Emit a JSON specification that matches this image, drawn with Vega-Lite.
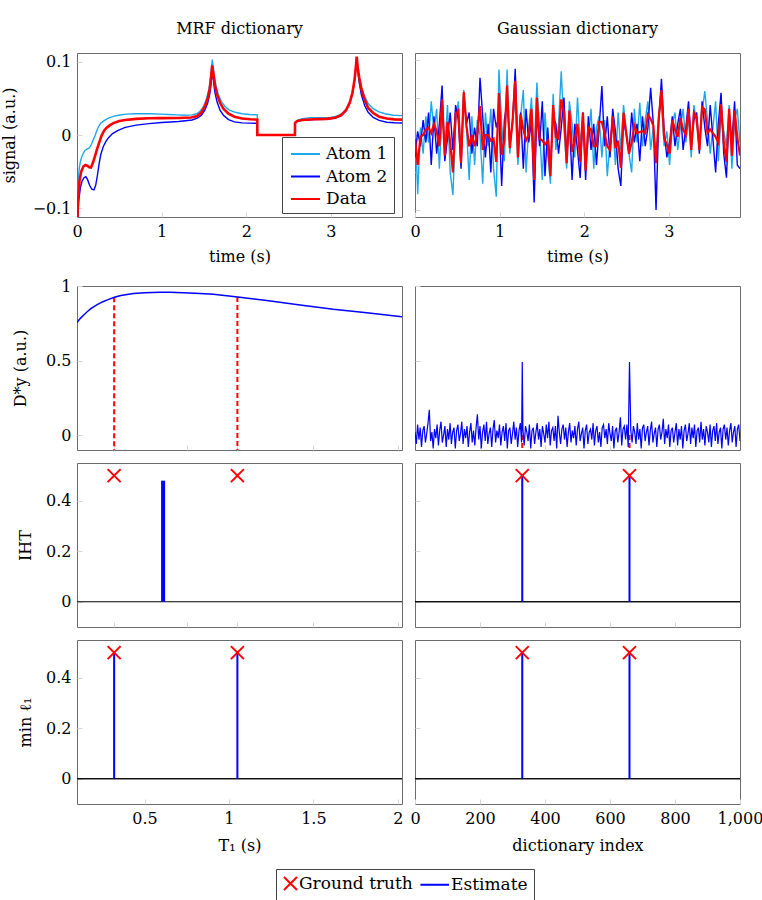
{
"$schema": "https://vega.github.io/schema/vega-lite/v6.json",
"padding": {"left": 0, "top": 20, "right": 0, "bottom": 0},
"background": "white",
"config": {
  "font": "DejaVu Serif",
  "view": {"stroke": "#6b6b6b", "strokeWidth": 1},
  "axis": {"domain": false, "grid": false, "ticks": true, "tickSize": -5, "tickColor": "#d6d6d6", "tickWidth": 1, "labelFont": "DejaVu Serif", "labelFontSize": 16, "labelColor": "#000", "labelPadding": 11, "labelFlush": false, "labelOverlap": false, "titleFont": "DejaVu Serif", "titleFontSize": 16, "titleFontWeight": "normal", "titleColor": "#000"},
  "legend": {"labelFont": "DejaVu Serif", "labelFontSize": 16, "labelColor": "#000"},
  "title": {"font": "DejaVu Serif", "fontSize": 16, "fontWeight": "normal", "color": "#000", "anchor": "middle", "frame": "group"}
},
"datasets": {
"mrf": [
{"s":"Atom 1","t":0,"v":-0.13},{"s":"Atom 1","t":0.01,"v":-0.075},{"s":"Atom 1","t":0.024,"v":-0.048},{"s":"Atom 1","t":0.04,"v":-0.036},{"s":"Atom 1","t":0.055,"v":-0.03},{"s":"Atom 1","t":0.075,"v":-0.025},{"s":"Atom 1","t":0.094,"v":-0.021},{"s":"Atom 1","t":0.12,"v":-0.019},{"s":"Atom 1","t":0.142,"v":-0.018},{"s":"Atom 1","t":0.16,"v":-0.015},{"s":"Atom 1","t":0.173,"v":-0.012},{"s":"Atom 1","t":0.19,"v":-0.007},{"s":"Atom 1","t":0.213,"v":-0.001},{"s":"Atom 1","t":0.232,"v":0.005},{"s":"Atom 1","t":0.252,"v":0.011},{"s":"Atom 1","t":0.28,"v":0.016},{"s":"Atom 1","t":0.311,"v":0.019},{"s":"Atom 1","t":0.34,"v":0.021},{"s":"Atom 1","t":0.37,"v":0.023},{"s":"Atom 1","t":0.43,"v":0.0255},{"s":"Atom 1","t":0.49,"v":0.027},{"s":"Atom 1","t":0.58,"v":0.0285},{"s":"Atom 1","t":0.685,"v":0.029},{"s":"Atom 1","t":0.78,"v":0.0292},{"s":"Atom 1","t":0.88,"v":0.029},{"s":"Atom 1","t":0.98,"v":0.0285},{"s":"Atom 1","t":1.08,"v":0.028},{"s":"Atom 1","t":1.18,"v":0.0275},{"s":"Atom 1","t":1.28,"v":0.027},{"s":"Atom 1","t":1.36,"v":0.0275},{"s":"Atom 1","t":1.41,"v":0.029},{"s":"Atom 1","t":1.45,"v":0.032},{"s":"Atom 1","t":1.49,"v":0.038},{"s":"Atom 1","t":1.52,"v":0.046},{"s":"Atom 1","t":1.55,"v":0.058},{"s":"Atom 1","t":1.57,"v":0.071},{"s":"Atom 1","t":1.585,"v":0.088},{"s":"Atom 1","t":1.598,"v":0.103},{"s":"Atom 1","t":1.61,"v":0.092},{"s":"Atom 1","t":1.625,"v":0.078},{"s":"Atom 1","t":1.645,"v":0.066},{"s":"Atom 1","t":1.67,"v":0.055},{"s":"Atom 1","t":1.71,"v":0.045},{"s":"Atom 1","t":1.75,"v":0.039},{"s":"Atom 1","t":1.8,"v":0.034},{"s":"Atom 1","t":1.87,"v":0.031},{"s":"Atom 1","t":1.95,"v":0.029},{"s":"Atom 1","t":2.04,"v":0.028},{"s":"Atom 1","t":2.13,"v":0.0275},{"s":"Atom 1","t":2.131,"v":0},{"s":"Atom 1","t":2.575,"v":0},{"s":"Atom 1","t":2.576,"v":0.017},{"s":"Atom 1","t":2.6,"v":0.02},{"s":"Atom 1","t":2.65,"v":0.022},{"s":"Atom 1","t":2.75,"v":0.0235},{"s":"Atom 1","t":2.9,"v":0.0235},{"s":"Atom 1","t":3.0,"v":0.024},{"s":"Atom 1","t":3.08,"v":0.026},{"s":"Atom 1","t":3.14,"v":0.03},{"s":"Atom 1","t":3.19,"v":0.037},{"s":"Atom 1","t":3.23,"v":0.047},{"s":"Atom 1","t":3.26,"v":0.06},{"s":"Atom 1","t":3.28,"v":0.077},{"s":"Atom 1","t":3.295,"v":0.094},{"s":"Atom 1","t":3.305,"v":0.105},{"s":"Atom 1","t":3.315,"v":0.094},{"s":"Atom 1","t":3.33,"v":0.082},{"s":"Atom 1","t":3.36,"v":0.066},{"s":"Atom 1","t":3.4,"v":0.052},{"s":"Atom 1","t":3.44,"v":0.043},{"s":"Atom 1","t":3.5,"v":0.036},{"s":"Atom 1","t":3.56,"v":0.032},{"s":"Atom 1","t":3.64,"v":0.029},{"s":"Atom 1","t":3.74,"v":0.027},{"s":"Atom 1","t":3.84,"v":0.0265},
{"s":"Atom 2","t":0,"v":-0.13},{"s":"Atom 2","t":0.02,"v":-0.09},{"s":"Atom 2","t":0.04,"v":-0.072},{"s":"Atom 2","t":0.06,"v":-0.063},{"s":"Atom 2","t":0.085,"v":-0.058},{"s":"Atom 2","t":0.105,"v":-0.057},{"s":"Atom 2","t":0.125,"v":-0.061},{"s":"Atom 2","t":0.15,"v":-0.069},{"s":"Atom 2","t":0.175,"v":-0.074},{"s":"Atom 2","t":0.2,"v":-0.075},{"s":"Atom 2","t":0.22,"v":-0.069},{"s":"Atom 2","t":0.24,"v":-0.056},{"s":"Atom 2","t":0.26,"v":-0.04},{"s":"Atom 2","t":0.28,"v":-0.027},{"s":"Atom 2","t":0.31,"v":-0.016},{"s":"Atom 2","t":0.34,"v":-0.009},{"s":"Atom 2","t":0.37,"v":-0.004},{"s":"Atom 2","t":0.42,"v":0.002},{"s":"Atom 2","t":0.48,"v":0.006},{"s":"Atom 2","t":0.57,"v":0.0105},{"s":"Atom 2","t":0.7,"v":0.0135},{"s":"Atom 2","t":0.85,"v":0.0155},{"s":"Atom 2","t":1.0,"v":0.017},{"s":"Atom 2","t":1.2,"v":0.0185},{"s":"Atom 2","t":1.36,"v":0.0205},{"s":"Atom 2","t":1.42,"v":0.023},{"s":"Atom 2","t":1.47,"v":0.027},{"s":"Atom 2","t":1.51,"v":0.034},{"s":"Atom 2","t":1.545,"v":0.044},{"s":"Atom 2","t":1.57,"v":0.057},{"s":"Atom 2","t":1.585,"v":0.071},{"s":"Atom 2","t":1.598,"v":0.088},{"s":"Atom 2","t":1.612,"v":0.074},{"s":"Atom 2","t":1.63,"v":0.058},{"s":"Atom 2","t":1.655,"v":0.045},{"s":"Atom 2","t":1.69,"v":0.034},{"s":"Atom 2","t":1.73,"v":0.027},{"s":"Atom 2","t":1.79,"v":0.021},{"s":"Atom 2","t":1.86,"v":0.018},{"s":"Atom 2","t":1.95,"v":0.0165},{"s":"Atom 2","t":2.13,"v":0.016},{"s":"Atom 2","t":2.131,"v":0},{"s":"Atom 2","t":2.575,"v":0},{"s":"Atom 2","t":2.576,"v":0.016},{"s":"Atom 2","t":2.6,"v":0.0185},{"s":"Atom 2","t":2.66,"v":0.02},{"s":"Atom 2","t":2.8,"v":0.021},{"s":"Atom 2","t":2.95,"v":0.0215},{"s":"Atom 2","t":3.05,"v":0.023},{"s":"Atom 2","t":3.12,"v":0.026},{"s":"Atom 2","t":3.18,"v":0.033},{"s":"Atom 2","t":3.225,"v":0.044},{"s":"Atom 2","t":3.255,"v":0.057},{"s":"Atom 2","t":3.28,"v":0.075},{"s":"Atom 2","t":3.295,"v":0.092},{"s":"Atom 2","t":3.305,"v":0.105},{"s":"Atom 2","t":3.317,"v":0.088},{"s":"Atom 2","t":3.335,"v":0.071},{"s":"Atom 2","t":3.36,"v":0.055},{"s":"Atom 2","t":3.4,"v":0.04},{"s":"Atom 2","t":3.44,"v":0.031},{"s":"Atom 2","t":3.5,"v":0.024},{"s":"Atom 2","t":3.57,"v":0.02},{"s":"Atom 2","t":3.66,"v":0.0175},{"s":"Atom 2","t":3.75,"v":0.0167},{"s":"Atom 2","t":3.84,"v":0.0163},
{"s":"Data","t":0,"v":-0.13},{"s":"Data","t":0.012,"v":-0.09},{"s":"Data","t":0.03,"v":-0.062},{"s":"Data","t":0.05,"v":-0.05},{"s":"Data","t":0.075,"v":-0.043},{"s":"Data","t":0.1,"v":-0.041},{"s":"Data","t":0.12,"v":-0.042},{"s":"Data","t":0.145,"v":-0.044},{"s":"Data","t":0.165,"v":-0.0445},{"s":"Data","t":0.185,"v":-0.039},{"s":"Data","t":0.21,"v":-0.03},{"s":"Data","t":0.235,"v":-0.02},{"s":"Data","t":0.26,"v":-0.011},{"s":"Data","t":0.29,"v":-0.001},{"s":"Data","t":0.32,"v":0.006},{"s":"Data","t":0.35,"v":0.01},{"s":"Data","t":0.39,"v":0.0135},{"s":"Data","t":0.43,"v":0.0162},{"s":"Data","t":0.5,"v":0.019},{"s":"Data","t":0.57,"v":0.0205},{"s":"Data","t":0.7,"v":0.022},{"s":"Data","t":0.85,"v":0.0228},{"s":"Data","t":1.0,"v":0.023},{"s":"Data","t":1.2,"v":0.0233},{"s":"Data","t":1.35,"v":0.024},{"s":"Data","t":1.42,"v":0.026},{"s":"Data","t":1.47,"v":0.031},{"s":"Data","t":1.51,"v":0.039},{"s":"Data","t":1.545,"v":0.05},{"s":"Data","t":1.57,"v":0.064},{"s":"Data","t":1.585,"v":0.08},{"s":"Data","t":1.598,"v":0.095},{"s":"Data","t":1.612,"v":0.083},{"s":"Data","t":1.63,"v":0.068},{"s":"Data","t":1.655,"v":0.055},{"s":"Data","t":1.69,"v":0.044},{"s":"Data","t":1.73,"v":0.036},{"s":"Data","t":1.79,"v":0.029},{"s":"Data","t":1.86,"v":0.025},{"s":"Data","t":1.95,"v":0.0225},{"s":"Data","t":2.05,"v":0.0215},{"s":"Data","t":2.13,"v":0.021},{"s":"Data","t":2.131,"v":0},{"s":"Data","t":2.575,"v":0},{"s":"Data","t":2.576,"v":0.0165},{"s":"Data","t":2.6,"v":0.019},{"s":"Data","t":2.66,"v":0.0205},{"s":"Data","t":2.8,"v":0.0215},{"s":"Data","t":2.95,"v":0.022},{"s":"Data","t":3.05,"v":0.0235},{"s":"Data","t":3.12,"v":0.027},{"s":"Data","t":3.18,"v":0.034},{"s":"Data","t":3.225,"v":0.045},{"s":"Data","t":3.255,"v":0.058},{"s":"Data","t":3.28,"v":0.076},{"s":"Data","t":3.295,"v":0.093},{"s":"Data","t":3.305,"v":0.107},{"s":"Data","t":3.317,"v":0.092},{"s":"Data","t":3.335,"v":0.078},{"s":"Data","t":3.36,"v":0.063},{"s":"Data","t":3.4,"v":0.048},{"s":"Data","t":3.44,"v":0.037},{"s":"Data","t":3.5,"v":0.03},{"s":"Data","t":3.57,"v":0.025},{"s":"Data","t":3.66,"v":0.0225},{"s":"Data","t":3.75,"v":0.0213},{"s":"Data","t":3.84,"v":0.021}
],
"gau": [
{"s":"Atom 1","t":0,"v":0.45},{"s":"Atom 1","t":0.032,"v":-1.58},{"s":"Atom 1","t":0.064,"v":0.2},{"s":"Atom 1","t":0.096,"v":-0.5},{"s":"Atom 1","t":0.128,"v":0.5},{"s":"Atom 1","t":0.16,"v":-0.2},{"s":"Atom 1","t":0.192,"v":0.9},{"s":"Atom 1","t":0.224,"v":0.1},{"s":"Atom 1","t":0.256,"v":0.7},{"s":"Atom 1","t":0.288,"v":-0.9},{"s":"Atom 1","t":0.32,"v":0.6},{"s":"Atom 1","t":0.352,"v":-0.4},{"s":"Atom 1","t":0.384,"v":0.8},{"s":"Atom 1","t":0.416,"v":-1.0},{"s":"Atom 1","t":0.448,"v":-1.6},{"s":"Atom 1","t":0.48,"v":0.3},{"s":"Atom 1","t":0.512,"v":0.9},{"s":"Atom 1","t":0.544,"v":-0.6},{"s":"Atom 1","t":0.576,"v":1.2},{"s":"Atom 1","t":0.608,"v":0.2},{"s":"Atom 1","t":0.64,"v":-1.2},{"s":"Atom 1","t":0.672,"v":0.5},{"s":"Atom 1","t":0.704,"v":-0.8},{"s":"Atom 1","t":0.736,"v":0.4},{"s":"Atom 1","t":0.768,"v":0.0},{"s":"Atom 1","t":0.8,"v":-1.3},{"s":"Atom 1","t":0.832,"v":0.6},{"s":"Atom 1","t":0.864,"v":-0.3},{"s":"Atom 1","t":0.896,"v":0.7},{"s":"Atom 1","t":0.928,"v":-0.9},{"s":"Atom 1","t":0.96,"v":-1.65},{"s":"Atom 1","t":0.992,"v":1.75},{"s":"Atom 1","t":1.024,"v":0.3},{"s":"Atom 1","t":1.056,"v":-0.7},{"s":"Atom 1","t":1.088,"v":1.75},{"s":"Atom 1","t":1.12,"v":-0.5},{"s":"Atom 1","t":1.152,"v":0.4},{"s":"Atom 1","t":1.184,"v":0.9},{"s":"Atom 1","t":1.216,"v":-0.8},{"s":"Atom 1","t":1.248,"v":0.5},{"s":"Atom 1","t":1.28,"v":1.2},{"s":"Atom 1","t":1.312,"v":-1.0},{"s":"Atom 1","t":1.344,"v":0.2},{"s":"Atom 1","t":1.376,"v":1.0},{"s":"Atom 1","t":1.408,"v":-0.6},{"s":"Atom 1","t":1.44,"v":1.4},{"s":"Atom 1","t":1.472,"v":0.1},{"s":"Atom 1","t":1.504,"v":-1.2},{"s":"Atom 1","t":1.536,"v":0.6},{"s":"Atom 1","t":1.568,"v":-0.5},{"s":"Atom 1","t":1.6,"v":-1.3},{"s":"Atom 1","t":1.632,"v":1.1},{"s":"Atom 1","t":1.664,"v":-0.4},{"s":"Atom 1","t":1.696,"v":0.3},{"s":"Atom 1","t":1.728,"v":1.7},{"s":"Atom 1","t":1.76,"v":0.2},{"s":"Atom 1","t":1.792,"v":-0.9},{"s":"Atom 1","t":1.824,"v":0.9},{"s":"Atom 1","t":1.856,"v":0.3},{"s":"Atom 1","t":1.888,"v":-0.6},{"s":"Atom 1","t":1.92,"v":1.0},{"s":"Atom 1","t":1.952,"v":-0.3},{"s":"Atom 1","t":1.984,"v":0.6},{"s":"Atom 1","t":2.016,"v":-0.7},{"s":"Atom 1","t":2.048,"v":-0.1},{"s":"Atom 1","t":2.08,"v":0.7},{"s":"Atom 1","t":2.112,"v":-0.9},{"s":"Atom 1","t":2.144,"v":0.2},{"s":"Atom 1","t":2.176,"v":0.5},{"s":"Atom 1","t":2.208,"v":-0.6},{"s":"Atom 1","t":2.24,"v":0.4},{"s":"Atom 1","t":2.272,"v":-1.1},{"s":"Atom 1","t":2.304,"v":-0.2},{"s":"Atom 1","t":2.336,"v":0.3},{"s":"Atom 1","t":2.368,"v":-0.8},{"s":"Atom 1","t":2.4,"v":0.6},{"s":"Atom 1","t":2.432,"v":-0.4},{"s":"Atom 1","t":2.464,"v":0.8},{"s":"Atom 1","t":2.496,"v":0.1},{"s":"Atom 1","t":2.528,"v":-0.5},{"s":"Atom 1","t":2.56,"v":-1.0},{"s":"Atom 1","t":2.592,"v":0.7},{"s":"Atom 1","t":2.624,"v":-0.2},{"s":"Atom 1","t":2.656,"v":0.86},{"s":"Atom 1","t":2.688,"v":-0.3},{"s":"Atom 1","t":2.72,"v":0.4},{"s":"Atom 1","t":2.752,"v":0.9},{"s":"Atom 1","t":2.784,"v":-0.4},{"s":"Atom 1","t":2.816,"v":0.2},{"s":"Atom 1","t":2.848,"v":-0.6},{"s":"Atom 1","t":2.88,"v":0.5},{"s":"Atom 1","t":2.912,"v":0.9},{"s":"Atom 1","t":2.944,"v":-0.3},{"s":"Atom 1","t":2.976,"v":0.1},{"s":"Atom 1","t":3.008,"v":-0.8},{"s":"Atom 1","t":3.04,"v":0.3},{"s":"Atom 1","t":3.072,"v":0.6},{"s":"Atom 1","t":3.104,"v":-0.4},{"s":"Atom 1","t":3.136,"v":0.2},{"s":"Atom 1","t":3.168,"v":0.7},{"s":"Atom 1","t":3.2,"v":-0.2},{"s":"Atom 1","t":3.232,"v":0.5},{"s":"Atom 1","t":3.264,"v":-0.6},{"s":"Atom 1","t":3.296,"v":0.8},{"s":"Atom 1","t":3.328,"v":0.3},{"s":"Atom 1","t":3.36,"v":-0.3},{"s":"Atom 1","t":3.392,"v":0.6},{"s":"Atom 1","t":3.424,"v":1.17},{"s":"Atom 1","t":3.456,"v":0.4},{"s":"Atom 1","t":3.488,"v":-0.5},{"s":"Atom 1","t":3.52,"v":0.2},{"s":"Atom 1","t":3.552,"v":0.9},{"s":"Atom 1","t":3.584,"v":-0.7},{"s":"Atom 1","t":3.616,"v":0.5},{"s":"Atom 1","t":3.648,"v":0.1},{"s":"Atom 1","t":3.68,"v":-0.3},{"s":"Atom 1","t":3.712,"v":0.8},{"s":"Atom 1","t":3.744,"v":-0.9},{"s":"Atom 1","t":3.776,"v":0.4},{"s":"Atom 1","t":3.808,"v":0.7},{"s":"Atom 1","t":3.84,"v":-0.2},
{"s":"Atom 2","t":0,"v":-0.6},{"s":"Atom 2","t":0.032,"v":0.1},{"s":"Atom 2","t":0.064,"v":-0.3},{"s":"Atom 2","t":0.096,"v":0.4},{"s":"Atom 2","t":0.128,"v":-0.2},{"s":"Atom 2","t":0.16,"v":0.6},{"s":"Atom 2","t":0.192,"v":-0.8},{"s":"Atom 2","t":0.224,"v":0.5},{"s":"Atom 2","t":0.256,"v":-0.5},{"s":"Atom 2","t":0.288,"v":0.3},{"s":"Atom 2","t":0.32,"v":1.32},{"s":"Atom 2","t":0.352,"v":-0.7},{"s":"Atom 2","t":0.384,"v":-0.1},{"s":"Atom 2","t":0.416,"v":0.6},{"s":"Atom 2","t":0.448,"v":-0.4},{"s":"Atom 2","t":0.48,"v":0.8},{"s":"Atom 2","t":0.512,"v":0.4},{"s":"Atom 2","t":0.544,"v":-0.9},{"s":"Atom 2","t":0.576,"v":1.1},{"s":"Atom 2","t":0.608,"v":0.3},{"s":"Atom 2","t":0.64,"v":0.6},{"s":"Atom 2","t":0.672,"v":-0.5},{"s":"Atom 2","t":0.704,"v":0.2},{"s":"Atom 2","t":0.736,"v":-0.3},{"s":"Atom 2","t":0.768,"v":1.53},{"s":"Atom 2","t":0.8,"v":0.5},{"s":"Atom 2","t":0.832,"v":-0.6},{"s":"Atom 2","t":0.864,"v":0.3},{"s":"Atom 2","t":0.896,"v":-1.0},{"s":"Atom 2","t":0.928,"v":0.7},{"s":"Atom 2","t":0.96,"v":0.2},{"s":"Atom 2","t":0.992,"v":0.5},{"s":"Atom 2","t":1.024,"v":-1.36},{"s":"Atom 2","t":1.056,"v":0.4},{"s":"Atom 2","t":1.088,"v":0.9},{"s":"Atom 2","t":1.12,"v":-0.2},{"s":"Atom 2","t":1.152,"v":0.3},{"s":"Atom 2","t":1.184,"v":1.77},{"s":"Atom 2","t":1.216,"v":-0.4},{"s":"Atom 2","t":1.248,"v":0.6},{"s":"Atom 2","t":1.28,"v":-0.9},{"s":"Atom 2","t":1.312,"v":0.7},{"s":"Atom 2","t":1.344,"v":-0.2},{"s":"Atom 2","t":1.376,"v":0.4},{"s":"Atom 2","t":1.408,"v":-1.8},{"s":"Atom 2","t":1.44,"v":0.6},{"s":"Atom 2","t":1.472,"v":-0.3},{"s":"Atom 2","t":1.504,"v":0.9},{"s":"Atom 2","t":1.536,"v":-1.1},{"s":"Atom 2","t":1.568,"v":0.2},{"s":"Atom 2","t":1.6,"v":-0.9},{"s":"Atom 2","t":1.632,"v":0.5},{"s":"Atom 2","t":1.664,"v":0.3},{"s":"Atom 2","t":1.696,"v":-0.5},{"s":"Atom 2","t":1.728,"v":0.2},{"s":"Atom 2","t":1.76,"v":1.0},{"s":"Atom 2","t":1.792,"v":-0.6},{"s":"Atom 2","t":1.824,"v":0.4},{"s":"Atom 2","t":1.856,"v":-1.2},{"s":"Atom 2","t":1.888,"v":0.3},{"s":"Atom 2","t":1.92,"v":-0.4},{"s":"Atom 2","t":1.952,"v":-1.15},{"s":"Atom 2","t":1.984,"v":0.6},{"s":"Atom 2","t":2.016,"v":-1.2},{"s":"Atom 2","t":2.048,"v":0.5},{"s":"Atom 2","t":2.08,"v":-0.4},{"s":"Atom 2","t":2.112,"v":0.3},{"s":"Atom 2","t":2.144,"v":-0.8},{"s":"Atom 2","t":2.176,"v":0.2},{"s":"Atom 2","t":2.208,"v":1.31},{"s":"Atom 2","t":2.24,"v":-0.3},{"s":"Atom 2","t":2.272,"v":0.5},{"s":"Atom 2","t":2.304,"v":-0.6},{"s":"Atom 2","t":2.336,"v":0.7},{"s":"Atom 2","t":2.368,"v":0.1},{"s":"Atom 2","t":2.4,"v":-0.9},{"s":"Atom 2","t":2.432,"v":-1.36},{"s":"Atom 2","t":2.464,"v":0.4},{"s":"Atom 2","t":2.496,"v":0.0},{"s":"Atom 2","t":2.528,"v":-0.5},{"s":"Atom 2","t":2.56,"v":0.6},{"s":"Atom 2","t":2.592,"v":-0.2},{"s":"Atom 2","t":2.624,"v":0.3},{"s":"Atom 2","t":2.656,"v":-0.7},{"s":"Atom 2","t":2.688,"v":0.5},{"s":"Atom 2","t":2.72,"v":-0.3},{"s":"Atom 2","t":2.752,"v":0.2},{"s":"Atom 2","t":2.784,"v":1.26},{"s":"Atom 2","t":2.816,"v":0.3},{"s":"Atom 2","t":2.848,"v":-2.0},{"s":"Atom 2","t":2.88,"v":0.4},{"s":"Atom 2","t":2.912,"v":1.5},{"s":"Atom 2","t":2.944,"v":0.1},{"s":"Atom 2","t":2.976,"v":-0.6},{"s":"Atom 2","t":3.008,"v":-0.2},{"s":"Atom 2","t":3.04,"v":0.5},{"s":"Atom 2","t":3.072,"v":-0.3},{"s":"Atom 2","t":3.104,"v":0.3},{"s":"Atom 2","t":3.136,"v":0.7},{"s":"Atom 2","t":3.168,"v":-0.4},{"s":"Atom 2","t":3.2,"v":0.2},{"s":"Atom 2","t":3.232,"v":0.9},{"s":"Atom 2","t":3.264,"v":-0.2},{"s":"Atom 2","t":3.296,"v":0.4},{"s":"Atom 2","t":3.328,"v":0.6},{"s":"Atom 2","t":3.36,"v":-0.5},{"s":"Atom 2","t":3.392,"v":0.9},{"s":"Atom 2","t":3.424,"v":0.2},{"s":"Atom 2","t":3.456,"v":-0.3},{"s":"Atom 2","t":3.488,"v":0.8},{"s":"Atom 2","t":3.52,"v":-0.1},{"s":"Atom 2","t":3.552,"v":-1.0},{"s":"Atom 2","t":3.584,"v":0.3},{"s":"Atom 2","t":3.616,"v":1.13},{"s":"Atom 2","t":3.648,"v":-0.5},{"s":"Atom 2","t":3.68,"v":-1.14},{"s":"Atom 2","t":3.712,"v":0.6},{"s":"Atom 2","t":3.744,"v":-0.2},{"s":"Atom 2","t":3.776,"v":0.9},{"s":"Atom 2","t":3.808,"v":-0.8},{"s":"Atom 2","t":3.84,"v":-0.9},
{"s":"Data","t":0,"v":-0.1},{"s":"Data","t":0.032,"v":-0.8},{"s":"Data","t":0.064,"v":-0.05},{"s":"Data","t":0.096,"v":0.0},{"s":"Data","t":0.128,"v":0.15},{"s":"Data","t":0.16,"v":0.2},{"s":"Data","t":0.192,"v":0.05},{"s":"Data","t":0.224,"v":0.3},{"s":"Data","t":0.256,"v":0.1},{"s":"Data","t":0.288,"v":-0.3},{"s":"Data","t":0.32,"v":0.95},{"s":"Data","t":0.352,"v":-0.55},{"s":"Data","t":0.384,"v":0.35},{"s":"Data","t":0.416,"v":-0.2},{"s":"Data","t":0.448,"v":-1.0},{"s":"Data","t":0.48,"v":0.55},{"s":"Data","t":0.512,"v":0.65},{"s":"Data","t":0.544,"v":-0.75},{"s":"Data","t":0.576,"v":1.15},{"s":"Data","t":0.608,"v":0.25},{"s":"Data","t":0.64,"v":-0.3},{"s":"Data","t":0.672,"v":0.0},{"s":"Data","t":0.704,"v":-0.3},{"s":"Data","t":0.736,"v":0.05},{"s":"Data","t":0.768,"v":0.77},{"s":"Data","t":0.8,"v":-0.4},{"s":"Data","t":0.832,"v":0.0},{"s":"Data","t":0.864,"v":0.0},{"s":"Data","t":0.896,"v":-0.15},{"s":"Data","t":0.928,"v":-0.1},{"s":"Data","t":0.96,"v":-0.72},{"s":"Data","t":0.992,"v":1.12},{"s":"Data","t":1.024,"v":-0.53},{"s":"Data","t":1.056,"v":-0.15},{"s":"Data","t":1.088,"v":1.32},{"s":"Data","t":1.12,"v":-0.35},{"s":"Data","t":1.152,"v":0.35},{"s":"Data","t":1.184,"v":1.45},{"s":"Data","t":1.216,"v":-0.6},{"s":"Data","t":1.248,"v":0.55},{"s":"Data","t":1.28,"v":0.15},{"s":"Data","t":1.312,"v":-0.15},{"s":"Data","t":1.344,"v":0.0},{"s":"Data","t":1.376,"v":0.7},{"s":"Data","t":1.408,"v":-1.2},{"s":"Data","t":1.44,"v":1.0},{"s":"Data","t":1.472,"v":-0.1},{"s":"Data","t":1.504,"v":-0.15},{"s":"Data","t":1.536,"v":-0.25},{"s":"Data","t":1.568,"v":-0.15},{"s":"Data","t":1.6,"v":-1.1},{"s":"Data","t":1.632,"v":0.8},{"s":"Data","t":1.664,"v":-0.05},{"s":"Data","t":1.696,"v":-0.1},{"s":"Data","t":1.728,"v":0.95},{"s":"Data","t":1.76,"v":0.6},{"s":"Data","t":1.792,"v":-0.75},{"s":"Data","t":1.824,"v":0.65},{"s":"Data","t":1.856,"v":-0.45},{"s":"Data","t":1.888,"v":-0.15},{"s":"Data","t":1.92,"v":0.3},{"s":"Data","t":1.952,"v":-0.72},{"s":"Data","t":1.984,"v":0.6},{"s":"Data","t":2.016,"v":-0.95},{"s":"Data","t":2.048,"v":0.2},{"s":"Data","t":2.08,"v":0.15},{"s":"Data","t":2.112,"v":-0.3},{"s":"Data","t":2.144,"v":-0.3},{"s":"Data","t":2.176,"v":0.35},{"s":"Data","t":2.208,"v":0.35},{"s":"Data","t":2.24,"v":0.05},{"s":"Data","t":2.272,"v":-0.3},{"s":"Data","t":2.304,"v":-0.4},{"s":"Data","t":2.336,"v":0.5},{"s":"Data","t":2.368,"v":-0.35},{"s":"Data","t":2.4,"v":-0.15},{"s":"Data","t":2.432,"v":-0.88},{"s":"Data","t":2.464,"v":0.6},{"s":"Data","t":2.496,"v":0.05},{"s":"Data","t":2.528,"v":-0.5},{"s":"Data","t":2.56,"v":-0.2},{"s":"Data","t":2.592,"v":0.25},{"s":"Data","t":2.624,"v":0.05},{"s":"Data","t":2.656,"v":0.08},{"s":"Data","t":2.688,"v":0.1},{"s":"Data","t":2.72,"v":0.05},{"s":"Data","t":2.752,"v":0.55},{"s":"Data","t":2.784,"v":0.43},{"s":"Data","t":2.816,"v":0.25},{"s":"Data","t":2.848,"v":-0.75},{"s":"Data","t":2.88,"v":0.45},{"s":"Data","t":2.912,"v":1.2},{"s":"Data","t":2.944,"v":-0.1},{"s":"Data","t":2.976,"v":-0.25},{"s":"Data","t":3.008,"v":-0.5},{"s":"Data","t":3.04,"v":0.4},{"s":"Data","t":3.072,"v":0.15},{"s":"Data","t":3.104,"v":-0.05},{"s":"Data","t":3.136,"v":0.45},{"s":"Data","t":3.168,"v":0.15},{"s":"Data","t":3.2,"v":0.0},{"s":"Data","t":3.232,"v":0.7},{"s":"Data","t":3.264,"v":-0.4},{"s":"Data","t":3.296,"v":0.6},{"s":"Data","t":3.328,"v":0.45},{"s":"Data","t":3.36,"v":-0.4},{"s":"Data","t":3.392,"v":0.75},{"s":"Data","t":3.424,"v":0.68},{"s":"Data","t":3.456,"v":0.05},{"s":"Data","t":3.488,"v":0.15},{"s":"Data","t":3.52,"v":0.05},{"s":"Data","t":3.552,"v":-0.05},{"s":"Data","t":3.584,"v":-0.2},{"s":"Data","t":3.616,"v":0.82},{"s":"Data","t":3.648,"v":-0.2},{"s":"Data","t":3.68,"v":-0.72},{"s":"Data","t":3.712,"v":0.7},{"s":"Data","t":3.744,"v":-0.55},{"s":"Data","t":3.776,"v":0.65},{"s":"Data","t":3.808,"v":-0.05},{"s":"Data","t":3.84,"v":-0.55}
],
"dy_mrf": [
{"T1":0.1,"v":0.755},{"T1":0.12,"v":0.783},{"T1":0.14,"v":0.806},{"T1":0.157,"v":0.824},{"T1":0.18,"v":0.846},{"T1":0.217,"v":0.873},{"T1":0.25,"v":0.893},{"T1":0.28,"v":0.907},{"T1":0.321,"v":0.924},{"T1":0.36,"v":0.936},{"T1":0.434,"v":0.949},{"T1":0.5,"v":0.955},{"T1":0.592,"v":0.958},{"T1":0.65,"v":0.958},{"T1":0.73,"v":0.955},{"T1":0.8,"v":0.951},{"T1":0.908,"v":0.944},{"T1":1.052,"v":0.927},{"T1":1.224,"v":0.902},{"T1":1.421,"v":0.873},{"T1":1.618,"v":0.844},{"T1":1.816,"v":0.82},{"T1":2.025,"v":0.793}
],
"dy_gau": [
{"idx":0,"v":0.02},{"idx":4,"v":-0.06},{"idx":8,"v":0.07},{"idx":12,"v":-0.03},{"idx":16,"v":0.05},{"idx":20,"v":-0.08},{"idx":24,"v":0.03},{"idx":28,"v":0.06},{"idx":32,"v":-0.05},{"idx":36,"v":0.01},{"idx":40,"v":0.08},{"idx":44,"v":0.17},{"idx":48,"v":-0.04},{"idx":52,"v":0.02},{"idx":56,"v":-0.09},{"idx":60,"v":0.04},{"idx":64,"v":-0.02},{"idx":68,"v":0.07},{"idx":72,"v":-0.07},{"idx":76,"v":0.03},{"idx":80,"v":0.09},{"idx":84,"v":-0.05},{"idx":88,"v":0.0},{"idx":92,"v":0.06},{"idx":96,"v":-0.08},{"idx":100,"v":0.04},{"idx":104,"v":-0.03},{"idx":108,"v":0.08},{"idx":112,"v":-0.06},{"idx":116,"v":0.02},{"idx":120,"v":0.05},{"idx":124,"v":-0.09},{"idx":128,"v":0.03},{"idx":132,"v":0.07},{"idx":136,"v":-0.04},{"idx":140,"v":0.01},{"idx":144,"v":0.09},{"idx":148,"v":-0.06},{"idx":152,"v":0.04},{"idx":156,"v":-0.02},{"idx":160,"v":0.06},{"idx":164,"v":-0.08},{"idx":168,"v":0.02},{"idx":172,"v":0.08},{"idx":176,"v":-0.05},{"idx":180,"v":0.03},{"idx":184,"v":-0.07},{"idx":188,"v":0.05},{"idx":192,"v":0.14},{"idx":196,"v":-0.03},{"idx":200,"v":0.06},{"idx":204,"v":-0.09},{"idx":208,"v":0.02},{"idx":212,"v":0.07},{"idx":216,"v":-0.04},{"idx":220,"v":0.09},{"idx":224,"v":-0.06},{"idx":228,"v":0.01},{"idx":232,"v":0.05},{"idx":236,"v":-0.08},{"idx":240,"v":0.04},{"idx":244,"v":0.1},{"idx":248,"v":-0.05},{"idx":252,"v":0.03},{"idx":256,"v":-0.02},{"idx":260,"v":0.07},{"idx":264,"v":-0.07},{"idx":268,"v":0.02},{"idx":272,"v":0.06},{"idx":276,"v":-0.04},{"idx":280,"v":0.08},{"idx":284,"v":-0.09},{"idx":288,"v":0.03},{"idx":292,"v":0.05},{"idx":296,"v":-0.06},{"idx":300,"v":0.01},{"idx":304,"v":0.09},{"idx":308,"v":-0.03},{"idx":312,"v":0.05},{"idx":316,"v":-0.08},{"idx":320,"v":0.03},{"idx":324,"v":0.08},{"idx":328,"v":-0.05},{"idx":330,"v":0.49},{"idx":332,"v":0.04},{"idx":336,"v":-0.07},{"idx":340,"v":0.06},{"idx":344,"v":0.02},{"idx":348,"v":-0.04},{"idx":352,"v":0.07},{"idx":356,"v":-0.09},{"idx":360,"v":0.03},{"idx":364,"v":0.05},{"idx":368,"v":-0.06},{"idx":372,"v":0.02},{"idx":376,"v":0.08},{"idx":380,"v":-0.03},{"idx":384,"v":0.04},{"idx":388,"v":-0.08},{"idx":392,"v":0.06},{"idx":396,"v":0.01},{"idx":400,"v":-0.05},{"idx":404,"v":0.07},{"idx":408,"v":-0.02},{"idx":412,"v":0.09},{"idx":416,"v":-0.07},{"idx":420,"v":0.03},{"idx":424,"v":0.05},{"idx":428,"v":-0.04},{"idx":432,"v":0.06},{"idx":436,"v":-0.09},{"idx":440,"v":0.13},{"idx":444,"v":0.02},{"idx":448,"v":-0.06},{"idx":452,"v":0.04},{"idx":456,"v":0.07},{"idx":460,"v":-0.03},{"idx":464,"v":0.05},{"idx":468,"v":-0.08},{"idx":472,"v":0.02},{"idx":476,"v":0.08},{"idx":480,"v":-0.05},{"idx":484,"v":0.03},{"idx":488,"v":-0.02},{"idx":492,"v":0.06},{"idx":496,"v":-0.07},{"idx":500,"v":0.04},{"idx":504,"v":0.09},{"idx":508,"v":-0.04},{"idx":512,"v":0.01},{"idx":516,"v":0.05},{"idx":520,"v":-0.09},{"idx":524,"v":0.03},{"idx":528,"v":0.07},{"idx":532,"v":-0.06},{"idx":536,"v":0.02},{"idx":540,"v":0.04},{"idx":544,"v":-0.03},{"idx":548,"v":0.08},{"idx":552,"v":-0.07},{"idx":556,"v":0.03},{"idx":560,"v":0.06},{"idx":564,"v":-0.05},{"idx":568,"v":0.02},{"idx":572,"v":-0.08},{"idx":576,"v":0.05},{"idx":580,"v":0.07},{"idx":584,"v":-0.02},{"idx":588,"v":0.04},{"idx":592,"v":-0.06},{"idx":596,"v":0.08},{"idx":600,"v":0.01},{"idx":604,"v":-0.04},{"idx":608,"v":0.06},{"idx":612,"v":-0.09},{"idx":616,"v":0.03},{"idx":620,"v":0.05},{"idx":624,"v":-0.05},{"idx":628,"v":0.02},{"idx":632,"v":0.12},{"idx":636,"v":-0.07},{"idx":640,"v":0.04},{"idx":644,"v":0.06},{"idx":648,"v":-0.03},{"idx":652,"v":0.07},{"idx":656,"v":-0.08},{"idx":660,"v":0.49},{"idx":664,"v":0.03},{"idx":668,"v":-0.05},{"idx":672,"v":0.06},{"idx":676,"v":0.02},{"idx":680,"v":-0.06},{"idx":684,"v":0.08},{"idx":688,"v":-0.03},{"idx":692,"v":0.04},{"idx":696,"v":-0.09},{"idx":700,"v":0.05},{"idx":704,"v":0.07},{"idx":708,"v":-0.04},{"idx":712,"v":0.02},{"idx":716,"v":0.06},{"idx":720,"v":-0.07},{"idx":724,"v":0.03},{"idx":728,"v":0.09},{"idx":732,"v":-0.05},{"idx":736,"v":0.01},{"idx":740,"v":0.05},{"idx":744,"v":-0.08},{"idx":748,"v":0.04},{"idx":752,"v":0.07},{"idx":756,"v":-0.03},{"idx":760,"v":0.02},{"idx":764,"v":0.11},{"idx":768,"v":-0.06},{"idx":772,"v":0.04},{"idx":776,"v":-0.02},{"idx":780,"v":0.07},{"idx":784,"v":-0.08},{"idx":788,"v":0.03},{"idx":792,"v":0.05},{"idx":796,"v":-0.05},{"idx":800,"v":0.02},{"idx":804,"v":0.08},{"idx":808,"v":-0.07},{"idx":812,"v":0.04},{"idx":816,"v":-0.03},{"idx":820,"v":0.06},{"idx":824,"v":-0.09},{"idx":828,"v":0.03},{"idx":832,"v":0.07},{"idx":836,"v":-0.04},{"idx":840,"v":0.01},{"idx":844,"v":0.08},{"idx":848,"v":-0.06},{"idx":852,"v":0.05},{"idx":856,"v":-0.02},{"idx":860,"v":0.07},{"idx":864,"v":-0.08},{"idx":868,"v":0.03},{"idx":872,"v":0.05},{"idx":876,"v":-0.05},{"idx":880,"v":0.09},{"idx":884,"v":-0.03},{"idx":888,"v":0.04},{"idx":892,"v":-0.07},{"idx":896,"v":0.06},{"idx":900,"v":0.02},{"idx":904,"v":-0.05},{"idx":908,"v":0.07},{"idx":912,"v":-0.08},{"idx":916,"v":0.03},{"idx":920,"v":0.06},{"idx":924,"v":-0.04},{"idx":928,"v":0.08},{"idx":932,"v":-0.06},{"idx":936,"v":0.02},{"idx":940,"v":0.05},{"idx":944,"v":-0.09},{"idx":948,"v":0.04},{"idx":952,"v":0.07},{"idx":956,"v":-0.03},{"idx":960,"v":0.05},{"idx":964,"v":-0.07},{"idx":968,"v":0.03},{"idx":972,"v":0.08},{"idx":976,"v":-0.05},{"idx":980,"v":0.02},{"idx":984,"v":0.06},{"idx":988,"v":-0.08},{"idx":992,"v":0.04},{"idx":996,"v":0.07},{"idx":1000,"v":-0.04}
],
"gt_mrf": [{"T1":0.32,"a":0.5,"dy":0.924,"k":"Ground truth"},{"T1":1.05,"a":0.5,"dy":0.927,"k":"Ground truth"}],
"gt_gau": [{"idx":330,"a":0.5,"k":"Ground truth"},{"idx":660,"a":0.5,"k":"Ground truth"}],
"iht_mrf": [{"T1":0.61,"c":0.48}],
"l1_mrf": [{"T1":0.32,"c":0.5},{"T1":1.05,"c":0.5}],
"iht_gau": [{"idx":330,"c":0.5},{"idx":660,"c":0.5}],
"l1_gau": [{"idx":330,"c":0.5},{"idx":660,"c":0.5}]
},
"spacing": 12,
"resolve": {"scale": {"color": "independent", "shape": "independent"}},
"vconcat": [
 {
  "hconcat": [
   {
    "width": 325, "height": 164,
    "title": {"text": "MRF dictionary", "offset": 16},
    "data": {"name": "mrf"},
    "encoding": {
      "x": {"field": "t", "type": "quantitative", "scale": {"domain": [0, 3.84], "nice": false, "zero": false}, "axis": {"title": "time (s)", "values": [0, 1, 2, 3], "format": "d", "titlePadding": 9}},
      "y": {"field": "v", "type": "quantitative", "scale": {"domain": [-0.112, 0.112], "nice": false, "zero": false}, "axis": {"title": "signal (a.u.)", "values": [-0.1, 0, 0.1], "format": ".1~f", "titlePadding": 15}},
      "color": {"field": "s", "type": "nominal", "scale": {"domain": ["Atom 1", "Atom 2", "Data"], "range": ["#1ea8ea", "#0000ff", "#ff0000"]},
        "legend": {"orient": "none", "legendX": 205, "legendY": 84, "title": null, "symbolType": "M-0.8,0L2.1,0", "symbolSize": 400, "symbolStrokeWidth": 2, "labelOffset": 16, "labelFontSize": 17, "padding": 6, "rowPadding": 3.5, "strokeColor": "#444", "fillColor": "#ffffff"}}
    },
    "layer": [
     {"transform": [{"filter": "datum.s == 'Atom 1'"}], "mark": {"type": "line", "clip": true, "strokeWidth": 1.4}},
     {"transform": [{"filter": "datum.s == 'Atom 2'"}], "mark": {"type": "line", "clip": true, "strokeWidth": 1.4}},
     {"transform": [{"filter": "datum.s == 'Data'"}], "mark": {"type": "line", "clip": true, "strokeWidth": 2.6}}
    ]
   },
   {
    "width": 325, "height": 164,
    "title": {"text": "Gaussian dictionary", "offset": 16},
    "data": {"name": "gau"},
    "encoding": {
      "x": {"field": "t", "type": "quantitative", "scale": {"domain": [0, 3.84], "nice": false, "zero": false}, "axis": {"title": "time (s)", "values": [0, 1, 2, 3], "format": "d", "titlePadding": 9}},
      "y": {"field": "v", "type": "quantitative", "scale": {"domain": [-2.19, 2.19], "nice": false, "zero": false}, "axis": {"title": null, "labels": false, "values": [-2, -1, 0, 1, 2]}}
    },
    "layer": [
     {"transform": [{"filter": "datum.s == 'Atom 1'"}], "mark": {"type": "line", "clip": true, "strokeWidth": 1.4, "color": "#1ea8ea"}},
     {"transform": [{"filter": "datum.s == 'Atom 2'"}], "mark": {"type": "line", "clip": true, "strokeWidth": 1.4, "color": "#0000ff"}},
     {"transform": [{"filter": "datum.s == 'Data'"}], "mark": {"type": "line", "clip": true, "strokeWidth": 2.2, "color": "#ff0000"}}
    ]
   }
  ],
  "bounds": "flush",
  "spacing": 13
 },
 {
  "concat": [
   {
    "width": 325, "height": 164,
    "layer": [
     {"data": {"name": "gt_mrf"}, "mark": {"type": "rule", "color": "#ff0000", "strokeWidth": 2, "strokeDash": [5, 3]},
      "encoding": {"x": {"field": "T1", "type": "quantitative"}, "y": {"field": "dy", "type": "quantitative"}, "y2": {"datum": -0.1}}},
     {"data": {"name": "dy_mrf"}, "mark": {"type": "line", "color": "#0000ff", "strokeWidth": 1.5, "clip": true},
      "encoding": {
        "x": {"field": "T1", "type": "quantitative", "scale": {"domain": [0.1, 2.025], "nice": false, "zero": false}, "axis": {"labels": false, "title": null, "values": [0.32, 0.75, 1.05, 1.5, 2]}},
        "y": {"field": "v", "type": "quantitative", "scale": {"domain": [-0.1, 1], "nice": false, "zero": false}, "axis": {"title": "D*y (a.u.)", "values": [0, 0.5, 1], "format": ".1~f", "titlePadding": 17}}}}
    ]
   },
   {
    "width": 325, "height": 164,
    "layer": [
     {"data": {"name": "gt_gau"}, "mark": {"type": "rule", "color": "#ff0000", "strokeWidth": 2, "strokeDash": [5, 3]},
      "encoding": {"x": {"field": "idx", "type": "quantitative"}, "y": {"datum": 0, "type": "quantitative"}, "y2": {"datum": -0.1}}},
     {"data": {"name": "dy_gau"}, "mark": {"type": "line", "color": "#0000ff", "strokeWidth": 1.2, "clip": true},
      "encoding": {
        "x": {"field": "idx", "type": "quantitative", "scale": {"domain": [0, 1000], "nice": false, "zero": false}, "axis": {"labels": false, "title": null, "values": [200, 400, 600, 800]}},
        "y": {"field": "v", "type": "quantitative", "scale": {"domain": [-0.1, 1], "nice": false, "zero": false}, "axis": {"labels": false, "title": null, "values": [0, 0.5, 1]}}}}
    ]
   },
   {
    "width": 325, "height": 164,
    "layer": [
     {"data": {"name": "iht_mrf"}, "mark": {"type": "rule", "color": "#000000", "strokeWidth": 1.2},
      "encoding": {"y": {"datum": 0, "type": "quantitative", "scale": {"domain": [-0.1, 0.55], "nice": false, "zero": false}, "axis": {"title": "IHT", "values": [0, 0.2, 0.4], "format": ".1~f", "titlePadding": 12}}}},
     {"data": {"name": "iht_mrf"}, "mark": {"type": "rule", "color": "#0000ff", "strokeWidth": 4},
      "encoding": {"x": {"field": "T1", "type": "quantitative", "scale": {"domain": [0.1, 2.025], "nice": false, "zero": false}, "axis": {"labels": false, "title": null, "values": [0.32, 0.75, 1.05, 1.5, 2]}}, "y": {"field": "c", "type": "quantitative"}, "y2": {"datum": 0}}},
     {"data": {"name": "gt_mrf"}, "mark": {"type": "point", "filled": false, "size": 169, "strokeWidth": 2, "opacity": 1},
      "encoding": {"x": {"field": "T1", "type": "quantitative"}, "y": {"field": "a", "type": "quantitative"},
        "shape": {"field": "k", "type": "nominal", "scale": {"domain": ["Ground truth", "Estimate"], "range": ["M-1,-1L1,1M-1,1L1,-1", "M-3.4,0L1,0"]},
          "legend": {"orient": "none", "legendX": 199, "legendY": 583, "direction": "horizontal", "title": null, "padding": 6, "labelOffset": 0, "columnPadding": 3, "symbolSize": 169, "symbolStrokeWidth": 2, "labelFontSize": 17, "strokeColor": "#444", "fillColor": "#ffffff"}},
        "color": {"field": "k", "type": "nominal", "scale": {"domain": ["Ground truth", "Estimate"], "range": ["#ff0000", "#0000ff"]},
          "legend": {"orient": "none", "legendX": 199, "legendY": 583, "direction": "horizontal", "title": null, "padding": 6, "labelOffset": 0, "columnPadding": 3, "symbolSize": 169, "symbolStrokeWidth": 2, "labelFontSize": 17, "strokeColor": "#444", "fillColor": "#ffffff"}}}}
    ]
   },
   {
    "width": 325, "height": 164,
    "layer": [
     {"data": {"name": "iht_gau"}, "mark": {"type": "rule", "color": "#000000", "strokeWidth": 1.2},
      "encoding": {"y": {"datum": 0, "type": "quantitative", "scale": {"domain": [-0.1, 0.55], "nice": false, "zero": false}, "axis": {"title": null, "labels": false, "values": [0, 0.2, 0.4]}}}},
     {"data": {"name": "iht_gau"}, "mark": {"type": "rule", "color": "#0000ff", "strokeWidth": 2},
      "encoding": {"x": {"field": "idx", "type": "quantitative", "scale": {"domain": [0, 1000], "nice": false, "zero": false}, "axis": {"labels": false, "title": null, "values": [200, 400, 600, 800]}}, "y": {"field": "c", "type": "quantitative"}, "y2": {"datum": 0}}},
     {"data": {"name": "gt_gau"}, "mark": {"type": "point", "filled": false, "size": 169, "strokeWidth": 2, "opacity": 1},
      "encoding": {"x": {"field": "idx", "type": "quantitative"}, "y": {"field": "a", "type": "quantitative"},
        "shape": {"field": "k", "type": "nominal", "scale": {"domain": ["Ground truth", "Estimate"], "range": ["M-1,-1L1,1M-1,1L1,-1", "M-3.4,0L1,0"]}},
        "color": {"field": "k", "type": "nominal", "scale": {"domain": ["Ground truth", "Estimate"], "range": ["#ff0000", "#0000ff"]}}}}
    ]
   },
   {
    "width": 325, "height": 164,
    "layer": [
     {"data": {"name": "l1_mrf"}, "mark": {"type": "rule", "color": "#000000", "strokeWidth": 1.2},
      "encoding": {"y": {"datum": 0, "type": "quantitative", "scale": {"domain": [-0.1, 0.55], "nice": false, "zero": false}, "axis": {"title": "min ℓ₁", "values": [0, 0.2, 0.4], "format": ".1~f", "titlePadding": 12}}}},
     {"data": {"name": "l1_mrf"}, "mark": {"type": "rule", "color": "#0000ff", "strokeWidth": 2},
      "encoding": {"x": {"field": "T1", "type": "quantitative", "scale": {"domain": [0.1, 2.025], "nice": false, "zero": false}, "axis": {"title": "T₁ (s)", "values": [0.5, 1, 1.5, 2], "format": ".1~f", "titlePadding": 11}}, "y": {"field": "c", "type": "quantitative"}, "y2": {"datum": 0}}},
     {"data": {"name": "gt_mrf"}, "mark": {"type": "point", "filled": false, "size": 169, "strokeWidth": 2, "opacity": 1},
      "encoding": {"x": {"field": "T1", "type": "quantitative"}, "y": {"field": "a", "type": "quantitative"},
        "shape": {"field": "k", "type": "nominal", "scale": {"domain": ["Ground truth", "Estimate"], "range": ["M-1,-1L1,1M-1,1L1,-1", "M-3.4,0L1,0"]}},
        "color": {"field": "k", "type": "nominal", "scale": {"domain": ["Ground truth", "Estimate"], "range": ["#ff0000", "#0000ff"]}}}}
    ]
   },
   {
    "width": 325, "height": 164,
    "layer": [
     {"data": {"name": "l1_gau"}, "mark": {"type": "rule", "color": "#000000", "strokeWidth": 1.2},
      "encoding": {"y": {"datum": 0, "type": "quantitative", "scale": {"domain": [-0.1, 0.55], "nice": false, "zero": false}, "axis": {"title": null, "labels": false, "values": [0, 0.2, 0.4]}}}},
     {"data": {"name": "l1_gau"}, "mark": {"type": "rule", "color": "#0000ff", "strokeWidth": 2},
      "encoding": {"x": {"field": "idx", "type": "quantitative", "scale": {"domain": [0, 1000], "nice": false, "zero": false}, "axis": {"title": "dictionary index", "values": [0, 200, 400, 600, 800, 1000], "format": ",d", "titlePadding": 11}}, "y": {"field": "c", "type": "quantitative"}, "y2": {"datum": 0}}},
     {"data": {"name": "gt_gau"}, "mark": {"type": "point", "filled": false, "size": 169, "strokeWidth": 2, "opacity": 1},
      "encoding": {"x": {"field": "idx", "type": "quantitative"}, "y": {"field": "a", "type": "quantitative"},
        "shape": {"field": "k", "type": "nominal", "scale": {"domain": ["Ground truth", "Estimate"], "range": ["M-1,-1L1,1M-1,1L1,-1", "M-3.4,0L1,0"]}},
        "color": {"field": "k", "type": "nominal", "scale": {"domain": ["Ground truth", "Estimate"], "range": ["#ff0000", "#0000ff"]}}}}
    ]
   }
  ],
  "columns": 2,
  "bounds": "flush",
  "spacing": 13
 }
]
}
